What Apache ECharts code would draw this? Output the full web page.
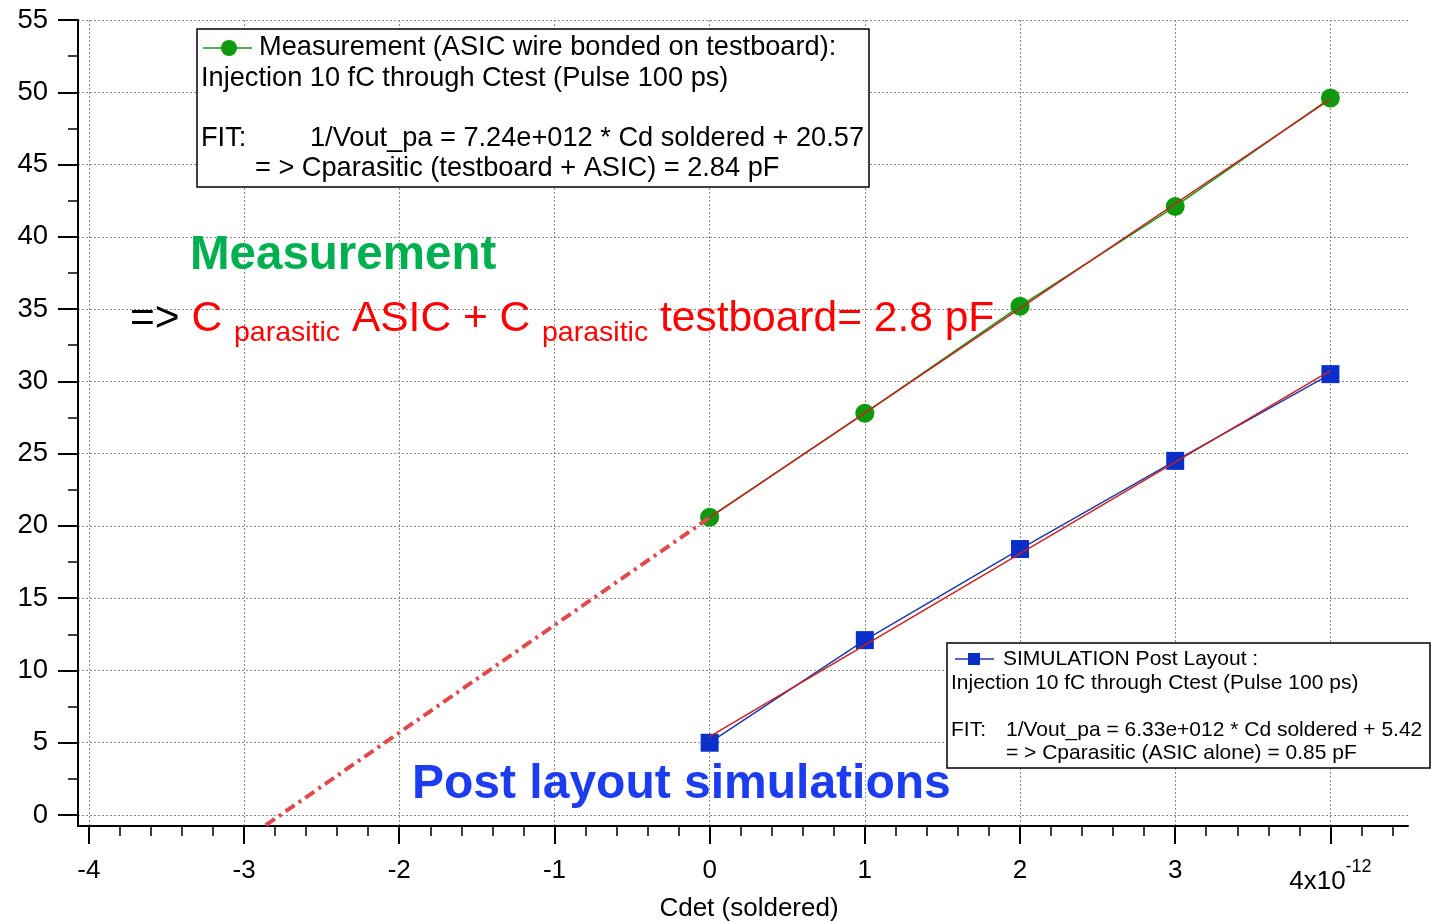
<!DOCTYPE html>
<html>
<head>
<meta charset="utf-8">
<script src="https://cdn.jsdelivr.net/npm/echarts@6/dist/echarts.min.js"></script>
<style>
html,body{margin:0;padding:0;background:#fff;}
#chart{width:1431px;height:921px;}
</style>
</head>
<body>
<div id="chart"></div>
<script>
// ---- data (Cdet in units of 1e-12 F) ----
const cdet = [0, 1, 2, 3, 4];
const measurement = [20.6, 27.8, 35.2, 42.1, 49.6];
const simulation = [5.0, 12.1, 18.4, 24.5, 30.5];
const fitX = [0, 4];
const fitMeasurement = [20.57, 49.53];
const fitSimulation = [5.42, 30.74];
const extrapX = [-2.86, 0];
const extrapY = [-0.7, 20.57];

// ---- axis ticks ----
const xMajorTicks = [-4, -3, -2, -1, 0, 1, 2, 3, 4];
const xMinorTicks = [-3.8, -3.6, -3.4, -3.2, -2.8, -2.6, -2.4, -2.2, -1.8, -1.6, -1.4, -1.2,
  -0.8, -0.6, -0.4, -0.2, 0.2, 0.4, 0.6, 0.8, 1.2, 1.4, 1.6, 1.8, 2.2, 2.4, 2.6, 2.8,
  3.2, 3.4, 3.6, 3.8, 4.2, 4.4];
const yMajorTicks = [0, 5, 10, 15, 20, 25, 30, 35, 40, 45, 50, 55];
const yMinorTicks = [2.5, 7.5, 12.5, 17.5, 22.5, 27.5, 32.5, 37.5, 42.5, 47.5, 52.5];
const xLabelLast = '4x10';
const xLabelExp = '-12';

const FONT = "'Liberation Sans', Arial, sans-serif";
const pair = (xs, ys) => xs.map((x, i) => [x, ys[i]]);

const chart = echarts.init(document.getElementById('chart'));
const gridRect = {left: 78, top: 20, width: 1330, height: 806, containLabel: false, outerBoundsMode: 'none'};
const gridLine = {show: true, lineStyle: {color: '#8a8a8a', width: 1, type: [2, 2]}};

const option = {
  animation: false,
  backgroundColor: '#fff',
  textStyle: {fontFamily: FONT},
  grid: [Object.assign({}, gridRect), Object.assign({}, gridRect)],
  xAxis: [
    {
      gridIndex: 0, type: 'value', min: -4.07, max: 4.5,
      axisLine: {show: true, onZero: false, lineStyle: {color: '#000', width: 2}},
      axisTick: {show: true, customValues: xMajorTicks, length: 18, lineStyle: {color: '#000', width: 2}},
      axisLabel: {
        customValues: xMajorTicks, margin: 32, fontSize: 26, lineHeight: 26, color: '#000', fontFamily: FONT,
        formatter: v => (v === 4 ? '{b|' + xLabelLast + '}{sup|' + xLabelExp + '}' : String(v)),
        rich: {
          b: {fontSize: 26, lineHeight: 48, color: '#000', fontFamily: FONT},
          sup: {fontSize: 18, lineHeight: 18, verticalAlign: 'top', color: '#000', fontFamily: FONT}
        }
      },
      splitLine: gridLine,
      name: 'Cdet (soldered)', nameLocation: 'middle', nameGap: 70, nameMoveOverlap: false,
      nameTextStyle: {fontSize: 26, color: '#000', fontFamily: FONT, padding: [0, 0, 0, 12]}
    },
    {
      gridIndex: 1, type: 'value', min: -4.07, max: 4.5,
      axisLine: {show: false, onZero: false},
      axisTick: {show: true, customValues: xMinorTicks, length: 10, lineStyle: {color: '#000', width: 1.5}},
      axisLabel: {show: false},
      splitLine: {show: false}
    }
  ],
  yAxis: [
    {
      gridIndex: 0, type: 'value', min: -0.76, max: 55,
      axisLine: {show: true, onZero: false, lineStyle: {color: '#000', width: 2}},
      axisTick: {show: true, customValues: yMajorTicks, length: 20, lineStyle: {color: '#000', width: 2}},
      axisLabel: {customValues: yMajorTicks, margin: 30, fontSize: 27.5, color: '#000', fontFamily: FONT},
      splitLine: gridLine
    },
    {
      gridIndex: 1, type: 'value', min: -0.76, max: 55,
      axisLine: {show: false, onZero: false},
      axisTick: {show: true, customValues: yMinorTicks, length: 10, lineStyle: {color: '#000', width: 1.5}},
      axisLabel: {show: false},
      splitLine: {show: false}
    }
  ],
  series: [
    {
      name: 'Measurement', type: 'line', xAxisIndex: 0, yAxisIndex: 0, z: 2,
      data: pair(cdet, measurement),
      symbol: 'circle', symbolSize: 19,
      lineStyle: {color: '#119a11', width: 1.5},
      itemStyle: {color: '#0f990f'}
    },
    {
      name: 'Simulation', type: 'line', xAxisIndex: 0, yAxisIndex: 0, z: 2,
      data: pair(cdet, simulation),
      symbol: 'rect', symbolSize: 18,
      lineStyle: {color: '#1a3aa8', width: 1.5},
      itemStyle: {color: '#0a2fc8'}
    },
    {
      name: 'Fit measurement', type: 'line', xAxisIndex: 0, yAxisIndex: 0, z: 5,
      data: pair(fitX, fitMeasurement), symbol: 'none',
      lineStyle: {color: '#cc2020', width: 1.5}
    },
    {
      name: 'Fit simulation', type: 'line', xAxisIndex: 0, yAxisIndex: 0, z: 5,
      data: pair(fitX, fitSimulation), symbol: 'none',
      lineStyle: {color: '#cc2020', width: 1.5}
    },
    {
      name: 'Extrapolation', type: 'line', xAxisIndex: 0, yAxisIndex: 0, z: 4,
      data: pair(extrapX, extrapY), symbol: 'none',
      lineStyle: {color: '#e04a4a', width: 4, type: [11, 5, 3, 5]}
    }
  ],
  graphic: [
    // top legend box
    {type: 'rect', z: 100, shape: {x: 197, y: 29, width: 672, height: 158},
      style: {fill: '#fff', stroke: '#000', lineWidth: 1.5}},
    {type: 'line', z: 101, shape: {x1: 203, y1: 48, x2: 252, y2: 48}, style: {stroke: '#119a11', lineWidth: 1.5}},
    {type: 'circle', z: 102, shape: {cx: 229, cy: 48, r: 8}, style: {fill: '#0f990f'}},
    {type: 'text', z: 101, x: 259, y: 48, style: {text: 'Measurement (ASIC wire bonded on testboard):', font: '27.2px ' + FONT, fill: '#000', verticalAlign: 'middle'}},
    {type: 'text', z: 101, x: 201, y: 79, style: {text: 'Injection 10 fC through Ctest (Pulse 100 ps)', font: '27.2px ' + FONT, fill: '#000', verticalAlign: 'middle'}},
    {type: 'text', z: 101, x: 201, y: 139, style: {text: 'FIT:', font: '27.2px ' + FONT, fill: '#000', verticalAlign: 'middle'}},
    {type: 'text', z: 101, x: 310, y: 139, style: {text: '1/Vout_pa = 7.24e+012 * Cd soldered + 20.57', font: '27.2px ' + FONT, fill: '#000', verticalAlign: 'middle'}},
    {type: 'text', z: 101, x: 255, y: 169, style: {text: '= > Cparasitic (testboard + ASIC) = 2.84 pF', font: '27.2px ' + FONT, fill: '#000', verticalAlign: 'middle'}},

    // bottom legend box
    {type: 'rect', z: 100, shape: {x: 947, y: 643, width: 483, height: 125},
      style: {fill: '#fff', stroke: '#000', lineWidth: 1.5}},
    {type: 'line', z: 101, shape: {x1: 955, y1: 659, x2: 994, y2: 659}, style: {stroke: '#1a3aa8', lineWidth: 1.5}},
    {type: 'rect', z: 102, shape: {x: 968, y: 653, width: 12, height: 12}, style: {fill: '#0a2fc8'}},
    {type: 'text', z: 101, x: 1003, y: 659, style: {text: 'SIMULATION Post Layout :', font: '21px ' + FONT, fill: '#000', verticalAlign: 'middle'}},
    {type: 'text', z: 101, x: 951, y: 683, style: {text: 'Injection 10 fC through Ctest (Pulse 100 ps)', font: '21px ' + FONT, fill: '#000', verticalAlign: 'middle'}},
    {type: 'text', z: 101, x: 951, y: 730, style: {text: 'FIT:', font: '21px ' + FONT, fill: '#000', verticalAlign: 'middle'}},
    {type: 'text', z: 101, x: 1006, y: 730, style: {text: '1/Vout_pa = 6.33e+012 * Cd soldered + 5.42', font: '21px ' + FONT, fill: '#000', verticalAlign: 'middle'}},
    {type: 'text', z: 101, x: 1006, y: 753, style: {text: '= > Cparasitic (ASIC alone) = 0.85 pF', font: '21px ' + FONT, fill: '#000', verticalAlign: 'middle'}},

    // annotations
    {type: 'text', z: 90, x: 190, y: 256, style: {text: 'Measurement', font: 'bold 47.5px ' + FONT, fill: '#00b050', verticalAlign: 'middle'}},
    {type: 'text', z: 90, x: 412, y: 785, style: {text: 'Post layout simulations', font: 'bold 48px ' + FONT, fill: '#1c3cf0', verticalAlign: 'middle'}},
    {type: 'text', z: 90, x: 130, y: 290, style: {
      text: '{k|=> }{r|C }{s|parasitic}{r| ASIC + C }{s|parasitic}{r| testboard= 2.8 pF}',
      verticalAlign: 'top', fontFamily: FONT, fontSize: 42.5,
      rich: {
        k: {fontSize: 42.5, lineHeight: 58, fill: '#000', fontFamily: FONT},
        r: {fontSize: 42.5, lineHeight: 58, fill: '#ff0000', fontFamily: FONT},
        s: {fontSize: 28.5, lineHeight: 28, verticalAlign: 'bottom', fill: '#ff0000', fontFamily: FONT}
      }
    }}
  ]
};
chart.setOption(option);
</script>
</body>
</html>
